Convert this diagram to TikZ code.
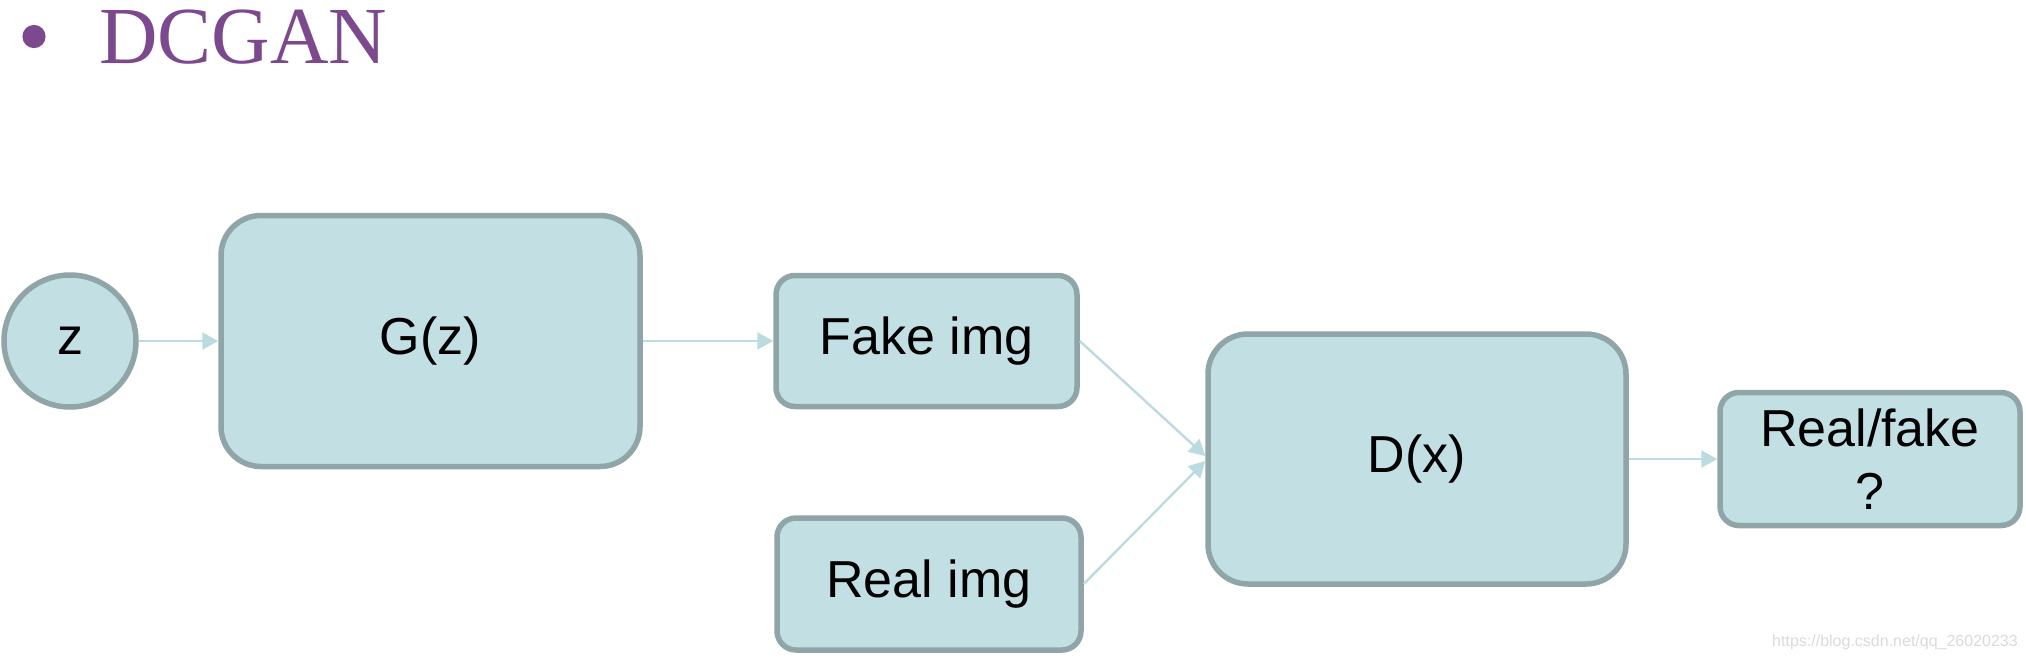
\documentclass[tikz,border=0pt]{standalone}
\usepackage{fontspec}
\setmainfont{Liberation Sans}
\newfontfamily\titlefont{Liberation Serif}
\usetikzlibrary{arrows.meta,calc}
\definecolor{boxfill}{RGB}{194,224,227}
\definecolor{boxline}{RGB}{143,165,168}
\definecolor{arrowcol}{RGB}{188,219,223}
\definecolor{titlecol}{RGB}{124,73,142}
\definecolor{wmcol}{RGB}{218,218,218}
\begin{document}
\begin{tikzpicture}[x=0.5pt,y=-0.5pt,
  blk/.style={draw=boxline,fill=boxfill,line width=2.75pt,inner sep=0pt,
    font=\fontsize{26}{31.5}\selectfont,align=center},
  bigbox/.style={blk,rounded corners=20pt,minimum width=209.5pt,minimum height=125.5pt},
  smallbox/.style={blk,rounded corners=9.5pt,minimum width=151pt,minimum height=66pt},
  conn/.style={draw=arrowcol,line width=1.2pt,-{Triangle[length=8pt,width=8.5pt]}}]
\useasboundingbox (0,0) rectangle (2026,660);
% title
\fill[titlecol] (34,36.5) circle (5.8pt);
\node[anchor=base west,inner sep=0pt,text=titlecol,font=\titlefont\fontsize{40.5}{40}\selectfont] (title) at (99,63) {DCGAN};
% nodes
\node[blk,circle,minimum size=66pt] (z) at (70,341) {z};
\node[bigbox] (G) at (430.5,341) {G(z)};
\node[smallbox,minimum width=150.5pt,minimum height=65.5pt] (fake) at (926.5,341) {Fake img};
\node[smallbox,minimum width=152pt,minimum height=66pt] (real) at (929,584) {Real img};
\node[bigbox,minimum width=209pt,minimum height=125pt] (D) at (1417,459) {D(x)};
\node[smallbox,minimum width=150pt,minimum height=66.5pt] (out) at (1870,459) {Real/fake\\?};
% connectors
\draw[conn] (z.east) -- (G.west);
\draw[conn] (G.east) -- (fake.west);
\draw[conn] (fake.east) -- ($(D.west)+(0,-3)$);
\draw[conn] (real.east) -- ($(D.west)+(0,2)$);
\draw[conn] (D.east) -- (out.west);
% watermark
\node[text=wmcol,inner sep=0pt,font=\fontsize{8}{9}\selectfont] (wm) at (1895,642) {https://blog.csdn.net/qq\_26020233};
\end{tikzpicture}
\end{document}
